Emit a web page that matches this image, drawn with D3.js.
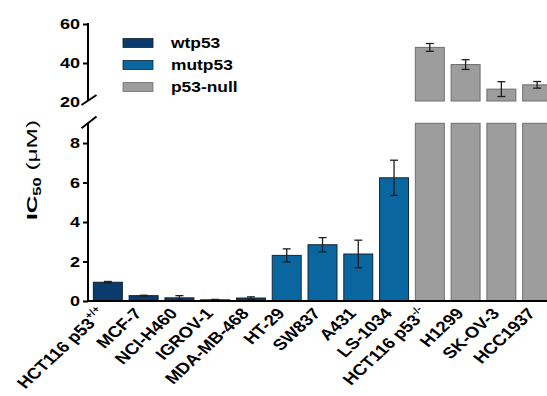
<!DOCTYPE html>
<html>
<head>
<meta charset="utf-8">
<script src="https://cdn.jsdelivr.net/npm/d3@7"></script>
<style>
  body { margin: 0; background: #fff; }
  text { font-family: Arial, "Liberation Sans", sans-serif; }
</style>
</head>
<body>
<svg id="chart" width="547" height="396"></svg>
<script>
// cell lines, p53 status, IC50 (uM) and error
const cells = ['HCT116 p53', 'MCF-7', 'NCI-H460', 'IGROV-1', 'MDA-MB-468', 'HT-29', 'SW837',
  'A431', 'LS-1034', 'HCT116 p53', 'H1299', 'SK-OV-3', 'HCC1937'];
const sups = ['+/+', '', '', '', '', '', '', '', '', '-/-', '', '', ''];
const status = ['wtp53', 'wtp53', 'wtp53', 'wtp53', 'wtp53', 'mutp53', 'mutp53', 'mutp53', 'mutp53',
  'p53-null', 'p53-null', 'p53-null', 'p53-null'];
const ic50 = [0.95, 0.27, 0.16, 0.06, 0.15, 2.31, 2.85, 2.38, 6.24, 48.0, 39.2, 26.6, 28.8];
const err = [0.04, 0.02, 0.11, 0.02, 0.06, 0.33, 0.36, 0.70, 0.89, 2.0, 2.5, 3.8, 1.7];
const groups = ['wtp53', 'mutp53', 'p53-null'];
const lowTicks = [0, 2, 4, 6, 8];
const highTicks = [20, 40, 60];

const svg = d3.select('#chart');
const sx = 1.2; // the picture looks stretched sideways, so texts get stretched too

const fill = d3.scaleOrdinal().domain(groups).range(['#0b3a6c', '#0a669f', '#9d9d9d']);
const edge = d3.scaleOrdinal().domain(groups).range(['#10202e', '#10293a', '#6e6e6e']);

const x = d3.scaleBand().domain(d3.range(cells.length)).range([88, 557]).paddingInner(0.19).paddingOuter(0.15);
const yLow = d3.scaleLinear().domain([0, 9]).range([301, 123.3]);
const yHigh = d3.scaleLinear().domain([20, 60]).range([102, 24]);

const stretch = (sel) => sel.each(function () {
  const t = d3.select(this);
  const tx = +t.attr('x') || 0;
  t.attr('x', 0).attr('transform', `translate(${tx},0) scale(${sx},1)`);
});

// lower y axis
const gLow = svg.append('g').attr('transform', 'translate(88,0)')
  .call(d3.axisLeft(yLow).tickValues(lowTicks).tickSize(5).tickSizeOuter(0).tickPadding(3));
// upper y axis
const gHigh = svg.append('g').attr('transform', 'translate(88,0)')
  .call(d3.axisLeft(yHigh).tickValues(highTicks).tickSize(5).tickSizeOuter(0).tickPadding(3));
[gLow, gHigh].forEach((g) => {
  g.select('.domain').remove();
  g.selectAll('line').attr('stroke', '#000').attr('stroke-width', 2);
  g.selectAll('text').attr('font-size', 15).attr('font-weight', 'bold').attr('fill', '#000').call(stretch);
});
gHigh.selectAll('.tick').filter((d) => d === 20).select('line').remove();
gLow.append('line').attr('x1', 0).attr('x2', 0).attr('y1', 123).attr('y2', yLow(0))
  .attr('stroke', '#000').attr('stroke-width', 2);
gHigh.append('line').attr('x1', 0).attr('x2', 0).attr('y1', yHigh(60) - 1).attr('y2', 101)
  .attr('stroke', '#000').attr('stroke-width', 2);
// break marks
[[105, 95], [128.3, 116.5]].forEach(([a, b]) => {
  svg.append('line').attr('x1', 81.5).attr('x2', 96.5).attr('y1', a).attr('y2', b)
    .attr('stroke', '#000').attr('stroke-width', 2);
});

// bars, lower part
const idx = d3.range(cells.length);
svg.append('g').selectAll('rect.low').data(idx).join('rect')
  .attr('class', 'low')
  .attr('x', (i) => x(i))
  .attr('width', x.bandwidth())
  .attr('y', (i) => yLow(Math.min(ic50[i], 9)))
  .attr('height', (i) => yLow(0) - yLow(Math.min(ic50[i], 9)))
  .attr('fill', (i) => fill(status[i]))
  .attr('stroke', (i) => edge(status[i]))
  .attr('stroke-width', 1);
// bars, upper part
const tall = idx.filter((i) => ic50[i] > 20);
svg.append('g').selectAll('rect.high').data(tall).join('rect')
  .attr('class', 'high')
  .attr('x', (i) => x(i))
  .attr('width', x.bandwidth())
  .attr('y', (i) => yHigh(ic50[i]))
  .attr('height', (i) => yHigh(20) - 1 - yHigh(ic50[i]))
  .attr('fill', (i) => fill(status[i]))
  .attr('stroke', (i) => edge(status[i]))
  .attr('stroke-width', 1);

// error bars
const yOf = (v) => (v > 9 ? yHigh(v) : yLow(v));
const eb = svg.append('g').attr('stroke', '#1e1e1e').attr('stroke-width', 1.3);
idx.forEach((i) => {
  const cx = x(i) + x.bandwidth() / 2;
  const y1 = yOf(ic50[i] + err[i]);
  const y2 = yOf(Math.max(ic50[i] - err[i], 0));
  eb.append('line').attr('x1', cx).attr('x2', cx).attr('y1', y1).attr('y2', y2);
  [y1, y2].forEach((yy) => eb.append('line').attr('x1', cx - 4).attr('x2', cx + 4).attr('y1', yy).attr('y2', yy));
});

// x axis
svg.append('g').attr('transform', `translate(0,${yLow(0)})`)
  .call(d3.axisBottom(x).tickSize(0).tickFormat(''))
  .call((g) => g.select('.domain').attr('d', 'M88,0H547').attr('stroke', '#000').attr('stroke-width', 2.2));

// x labels
svg.append('g').selectAll('text').data(idx).join('text')
  .attr('transform', (i) => `translate(${x(i) + x.bandwidth() / 2 - 1},${yLow(0) + 13}) scale(${sx},1) rotate(-48)`)
  .attr('text-anchor', 'end')
  .attr('font-size', 15.5)
  .attr('font-weight', 'bold')
  .attr('fill', '#000')
  .each(function (i) {
    const t = d3.select(this);
    t.append('tspan').text(cells[i]);
    if (sups[i]) t.append('tspan').attr('font-size', 9.5).attr('dy', -7).text(sups[i]);
  });

// y label
const yl = svg.append('text')
  .attr('transform', 'translate(37,170) rotate(-90)')
  .attr('text-anchor', 'middle')
  .attr('font-size', 15.5)
  .attr('fill', '#000')
  .attr('textLength', 100)
  .attr('lengthAdjust', 'spacingAndGlyphs');
yl.append('tspan').attr('font-weight', 'bold').text('IC');
yl.append('tspan').attr('font-weight', 'bold').attr('font-size', 10.5).attr('dy', 4).text('50');
yl.append('tspan').attr('dy', -4).text(' (\u03bcM)');

// legend
const leg = svg.append('g').selectAll('g').data(groups).join('g')
  .attr('transform', (d, i) => `translate(123,${38.5 + i * 22})`);
leg.append('rect').attr('width', 30).attr('height', 9)
  .attr('fill', (d) => fill(d)).attr('stroke', (d) => edge(d)).attr('stroke-width', 0.8);
leg.append('text').attr('x', 48).attr('y', 9).attr('font-size', 14.5).attr('font-weight', 'bold')
  .attr('fill', '#000').text((d) => d).call(stretch);
</script>
</body>
</html>
